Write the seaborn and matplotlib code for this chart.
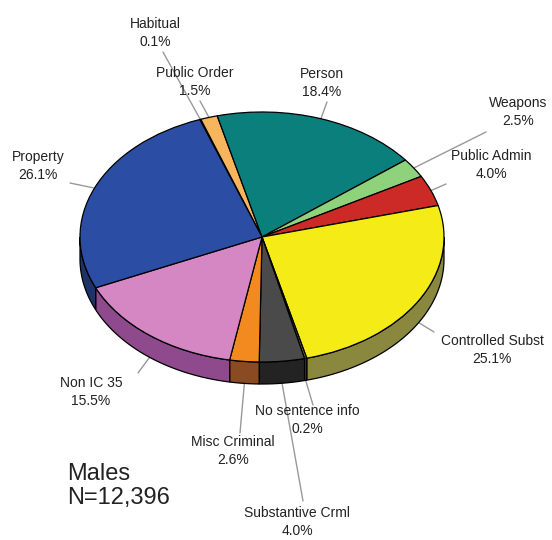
import numpy as np
import matplotlib
matplotlib.use("Agg")
import matplotlib.pyplot as plt
import seaborn as sns
from matplotlib.patches import Polygon

# ---- data ----
categories = ["Habitual", "Public Order", "Person", "Weapons", "Public Admin",
              "Controlled Subst", "No sentence info", "Substantive Crml",
              "Misc Criminal", "Non IC 35", "Property"]
percents = [0.1, 1.5, 18.4, 2.5, 4.0, 25.1, 0.2, 4.0, 2.6, 15.5, 26.1]
pct_labels = ["0.1%", "1.5%", "18.4%", "2.5%", "4.0%", "25.1%", "0.2%",
              "4.0%", "2.6%", "15.5%", "26.1%"]
top_colors = ["#222222", "#F7B55E", "#0B7F7B", "#8ED27C", "#CC2A26",
              "#F5EB16", "#6E6A3A", "#4A4A4A", "#F28A20", "#D487C3", "#2B4DA3"]
side_colors = ["#111111", "#9A6E36", "#074C4A", "#5A8A4E", "#7A1A18",
               "#8A883E", "#4A4828", "#232323", "#8A4A22", "#8E4A8C", "#1E3368"]
title_lines = ["Males", "N=12,396"]

# ---- layout (pixels of a 552x540 image) ----
W, H = 552, 540
CX, CY, RX, RY = 262, 237, 182, 125
DEPTH = 22

def px(x, y):
    return (x - CX) / RX, (CY - y) / RY

label_pos = [(155, 33), (195, 82), (322, 83), (518, 112), (491, 165),
             (492, 350), (307, 420), (297, 522), (233, 451), (91, 392), (38, 166)]
leader_end = [(163, 52), (200, 101), (327, 102), (486, 132), (446, 184),
              (434, 332), (313, 405), (303, 501), (240, 433), (138, 373), (70, 183)]

sns.set_theme(style="white")
plt.rcParams['font.family'] = ['Liberation Sans', 'DejaVu Sans']

fig = plt.figure(figsize=(W / 100, H / 100), dpi=100)
ax = fig.add_axes([0, 0, 1, 1])

wedges, _ = ax.pie(percents, colors=top_colors, startangle=110, counterclock=False,
                   radius=1, center=(0, 0), normalize=True,
                   wedgeprops=dict(edgecolor="black", linewidth=0.9, zorder=3))

d = DEPTH / RY
# side walls of the front half
for w, sc in zip(wedges, side_colors):
    t1, t2 = w.theta1, w.theta2
    for k in (-1, 0, 1):
        lo, hi = max(t1, 360 * k - 180), min(t2, 360 * k)
        if hi > lo:
            t = np.radians(np.linspace(lo, hi, 60))
            xs, ys = np.cos(t), np.sin(t)
            pts = np.concatenate([np.column_stack([xs, ys]),
                                  np.column_stack([xs[::-1], ys[::-1] - d])])
            ax.add_patch(Polygon(pts, closed=True, facecolor=sc, edgecolor="black",
                                 linewidth=0.9, zorder=2))

# labels with leader lines
for w, cat, pl, lp, le in zip(wedges, categories, pct_labels, label_pos, leader_end):
    mid = np.radians((w.theta1 + w.theta2) / 2)
    sx, sy = np.cos(mid), np.sin(mid)
    if sy < 0:
        sy -= d
    ex, ey = px(*le)
    ax.plot([sx, ex], [sy, ey], color="#999999", lw=1.0, zorder=1)
    tx, ty = px(*lp)
    ax.text(tx, ty, f"{cat}\n{pl}", ha="center", va="center", fontsize=10,
            linespacing=1.3, color="#222222", zorder=4)

mx, my = px(67, 486)
ax.text(mx, my, "\n".join(title_lines), ha="left", va="center", fontsize=17,
        linespacing=1.1, color="#222222")

ax.set_xlim(-CX / RX, (W - CX) / RX)
ax.set_ylim((CY - H) / RY, CY / RY)
ax.set_aspect("auto")
ax.axis("off")

fig.savefig("out.png", dpi=100, facecolor="white")
